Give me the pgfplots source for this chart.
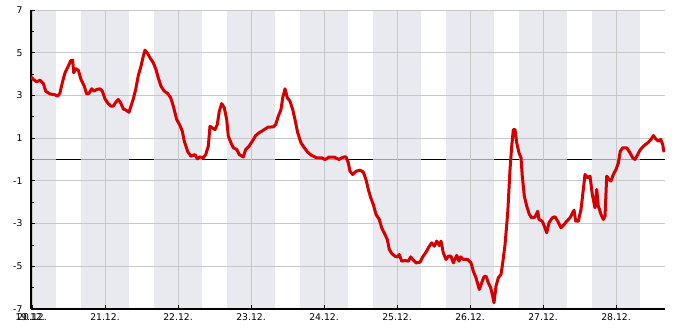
\documentclass[border=0pt]{standalone}
\usepackage{pgfplots}
\pgfplotsset{compat=1.18}
\usepackage{fontspec}
\setmainfont{DejaVu Sans}
\definecolor{band}{RGB}{224,225,232}
\definecolor{gridc}{RGB}{200,200,200}
\definecolor{linec}{RGB}{212,0,0}
\begin{document}
\begin{tikzpicture}
\begin{axis}[name=ax, set layers, scale only axis, width=634bp, height=299bp,
  xmin=-0.0137, xmax=8.671, ymin=-7, ymax=7,
  axis lines*=left, axis line style={line width=1.1bp, black},
  xtick={0,1,2,3,4,5,6,7,8},
  xticklabels={20.12.,21.12.,22.12.,23.12.,24.12.,25.12.,26.12.,27.12.,28.12.},
  extra x ticks={-0.0135}, extra x tick labels={19.12.},
  extra x tick style={grid=none, major tick length=0pt, xticklabel style={xshift=-1bp}},
  ytick={-7,-5,-3,-1,1,3,5,7}, minor ytick={-6,-4,-2,0,2,4,6},
  grid=major, major grid style={gridc, line width=0.8bp},
  tick align=inside, major tick length=4bp, minor tick length=3bp,
  tick style={black, line width=0.8bp},
  font=\fontsize{9.3}{11}\selectfont,
  /pgf/number format/assume math mode=true,
  yticklabel style={xshift=-5bp},
  xticklabel style={yshift=-1bp},
]
\begin{pgfonlayer}{axis background}
\draw[black, line width=1bp] (axis cs:-0.0137,0) -- (axis cs:8.671,0);
\fill[band, fill opacity=0.71] (axis cs:-0.0137,-7) rectangle (axis cs:0.3333,7);
\fill[band, fill opacity=0.71] (axis cs:0.6667,-7) rectangle (axis cs:1.3333,7);
\fill[band, fill opacity=0.71] (axis cs:1.6667,-7) rectangle (axis cs:2.3333,7);
\fill[band, fill opacity=0.71] (axis cs:2.6667,-7) rectangle (axis cs:3.3333,7);
\fill[band, fill opacity=0.71] (axis cs:3.6667,-7) rectangle (axis cs:4.3333,7);
\fill[band, fill opacity=0.71] (axis cs:4.6667,-7) rectangle (axis cs:5.3333,7);
\fill[band, fill opacity=0.71] (axis cs:5.6667,-7) rectangle (axis cs:6.3333,7);
\fill[band, fill opacity=0.71] (axis cs:6.6667,-7) rectangle (axis cs:7.3333,7);
\fill[band, fill opacity=0.71] (axis cs:7.6667,-7) rectangle (axis cs:8.3333,7);
\end{pgfonlayer}
\addplot[linec, line width=3bp, line join=round, x filter/.expression={(x-32)/73}] coordinates {
(31,3.87)(33.3,3.75)(36.7,3.64)(40,3.71)(43.3,3.56)(45.7,3.2)(50,3.07)(55,3.03)(57.7,2.96)(60,3.12)
(62.3,3.59)(65,4.06)(68.3,4.37)(70.7,4.63)(72.7,4.65)(73.7,4.06)(75.7,4.25)(78.3,4.18)(81,3.75)(84.3,3.43)
(86.7,3.07)(89,3.09)(91.7,3.31)(94,3.2)(96.7,3.28)(100,3.31)(102.3,3.2)(105,2.84)(108.3,2.61)(111,2.5)
(113.3,2.5)(115.7,2.68)(118.3,2.81)(120.7,2.65)(123.3,2.37)(126,2.31)(129,2.21)(131,2.5)(133.3,2.84)(135.7,3.28)
(138.3,3.93)(141,4.37)(143.3,4.84)(145,5.12)(147.7,4.96)(150,4.76)(153.3,4.53)(156,4.21)(158.3,3.82)(161,3.43)
(164.3,3.2)(167.7,3.09)(170.7,2.89)(173.3,2.5)(176.7,1.87)(180,1.59)(182.3,1.32)(184.3,0.85)(187.7,0.37)(191,0.15)
(195,0.23)(197.3,0.03)(200,0.12)(203.3,0.08)(205.7,0.23)(208.3,0.62)(210,1.56)(212.3,1.48)(215,1.40)(217.3,1.64)
(219.3,2.26)(221.7,2.62)(224.3,2.42)(226.7,1.87)(228.3,1.09)(231,0.78)(233.3,0.55)(236.7,0.47)(239.3,0.23)(243.3,0.12)
(245.7,0.47)(249,0.62)(252.3,0.86)(255.7,1.12)(259,1.25)(263.3,1.37)(267.7,1.51)(273.3,1.53)(275.7,1.64)(278.3,2.03)
(281,2.34)(282.7,2.89)(285,3.31)(287.3,2.89)(290,2.73)(292.7,2.34)(295,1.87)(297.7,1.25)(301,0.78)(304.3,0.55)
(307.7,0.34)(311.7,0.19)(316.7,0.08)(321.7,0.08)(325,0.0)(329,0.11)(334.3,0.11)(339,0.0)(341.7,0.08)(344.3,0.12)
(346,0.12)(348.3,-0.16)(350,-0.55)(352.7,-0.70)(356,-0.55)(360,-0.50)(363.3,-0.59)(366,-0.94)(368.3,-1.40)(370.7,-1.79)
(373.3,-2.11)(376,-2.57)(379.3,-2.81)(381.7,-3.20)(385,-3.51)(387.3,-3.75)(389.3,-4.21)(391.7,-4.40)(395,-4.53)(397.3,-4.56)
(399.3,-4.45)(401.7,-4.76)(405,-4.73)(408.3,-4.76)(410.7,-4.56)(412.7,-4.68)(416,-4.84)(420,-4.81)(422.7,-4.56)(426,-4.34)
(429.3,-4.06)(431.7,-3.90)(434.3,-4.06)(436.7,-3.82)(439.3,-4.03)(441,-3.82)(443.3,-4.37)(446,-4.68)(448.3,-4.53)(451,-4.53)
(453.3,-4.84)(456.7,-4.49)(459,-4.76)(460.7,-4.56)(463.3,-4.68)(467.7,-4.68)(471,-4.84)(473.3,-5.23)(476,-5.54)(479.3,-6.09)
(481.7,-5.77)(484,-5.49)(486,-5.46)(488.3,-5.77)(490.7,-6.01)(492.7,-6.40)(494,-6.71)(496,-5.93)(498.3,-5.54)(501,-5.38)
(502.7,-4.84)(505,-4.0)(507.7,-2.5)(510,-0.47)(511.7,0.62)(513.3,1.40)(515,1.40)(516.7,0.78)(519,0.31)(521,0.08)
(522.3,-0.78)(524.3,-1.72)(526.7,-2.18)(529.3,-2.57)(531.7,-2.73)(535,-2.70)(537.7,-2.42)(539,-2.81)(542.3,-2.89)(544.3,-3.12)
(546.7,-3.43)(549,-2.96)(552.3,-2.73)(555,-2.68)(557.7,-2.89)(561,-3.20)(563.3,-3.09)(566.7,-2.89)(570,-2.73)(574,-2.37)
(575.7,-2.89)(578.3,-2.89)(581,-2.34)(583.3,-1.40)(585,-0.70)(587.7,-0.86)(590,-0.78)(592.3,-1.64)(595,-2.26)(596.7,-1.40)
(598.3,-2.18)(601,-2.57)(603.3,-2.81)(605,-2.65)(606.7,-0.78)(609,-0.94)(611,-1.01)(613.3,-0.70)(616,-0.47)(618.3,-0.16)
(620.3,0.39)(622.7,0.55)(626.7,0.55)(630,0.31)(632.7,0.08)(635,0.0)(637.7,0.23)(640,0.44)(643.3,0.62)(647.7,0.78)
(651,0.94)(653.3,1.12)(655.7,0.97)(658.3,0.86)(660.7,0.94)(662.7,0.70)(664,0.34)
};
\end{axis}
\path ([xshift=-31bp,yshift=-21bp]ax.south west) rectangle ([xshift=20bp,yshift=10bp]ax.north east);
\end{tikzpicture}
\end{document}
